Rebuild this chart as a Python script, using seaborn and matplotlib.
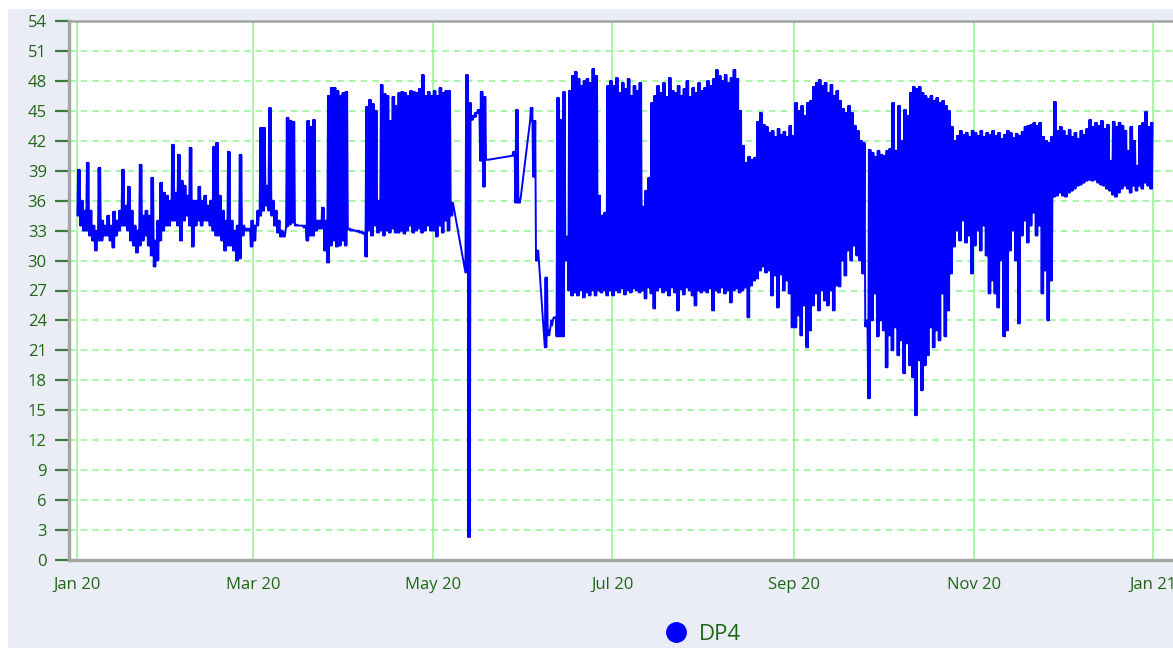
import matplotlib
matplotlib.use("Agg")
import matplotlib.pyplot as plt
import matplotlib.dates as mdates
from matplotlib.lines import Line2D
from matplotlib.patches import Rectangle
import pandas as pd
import seaborn as sns

# ─────────────────────────────────────────────────────────────────
# DATA  (daily low / high of DP4; None = no data)
# ─────────────────────────────────────────────────────────────────
START = pd.Timestamp("2020-01-01")

jan_hi = [39.1, 36, 35, 39.8, 35, 33.5, 33, 39.3, 34, 33.5,
          34.5, 33.5, 34.9, 34, 35, 39.1, 35.5, 37.4, 35, 33.5,
          33, 39.6, 34.5, 35, 34.5, 38.3, 32, 34, 37.8, 36.8,
          36.5]
jan_lo = [34.5, 33.5, 33, 33, 32.5, 32, 31, 32, 32, 32.5,
          32.5, 32, 31.3, 32.5, 33, 33.5, 33.5, 33, 32, 31.5,
          30.8, 31.5, 32, 32.5, 31.5, 30.5, 29.4, 30, 32, 33,
          33.5]

feb_hi = [36, 41.6, 36.8, 40.6, 38, 37.5, 36.5, 41.3, 36, 36,
          37.4, 36, 36.5, 35.5, 36, 41.4, 41.8, 36.5, 35, 34,
          40.9, 34, 33, 33.5, 40.6, 33.5, 33.2, 33.2, 34]
feb_lo = [33.5, 34, 34, 33.5, 32, 34, 34.5, 33.5, 31.4, 33.5,
          34, 33.5, 34, 34, 33.5, 33, 32.5, 32.5, 32, 31,
          31.5, 31.5, 31, 30, 30.2, 32.5, 33, 33, 31.4]

mar_hi = [33.5, 35, 43.3, 43.3, 37.5, 45.3, 36, 35, 34, 33,
          32.8, 44.3, 44, 43.9, 33.6, 33.5, 33.5, 33.5, 44, 43.4,
          44.1, 34, 34, 35.3, 34, 46.5, 47.3, 47.3, 47, 46.5,
          46.8]
mar_lo = [32, 33.5, 34.5, 35, 35.5, 35, 34.5, 33.5, 32.8, 32.4,
          32.4, 33.4, 33.6, 33.8, 33.5, 33.5, 33.5, 33.3, 32, 32.5,
          32.5, 33, 33.2, 33.2, 31, 29.8, 31.5, 32, 31.4, 31.5,
          32]

apr_hi = [46.9, 33.2, 33.1, 33, 33, 32.9, 32.8, 45.4, 46.1, 45.7,
          45, 36, 47.6, 46.7, 46.5, 44, 46.4, 45.5, 46.8, 46.9,
          46.8, 46.5, 47, 46.9, 46.8, 47.2, 48.6, 46.5, 46.9, 46.5]
apr_lo = [31.5, 33.1, 33, 33, 32.9, 32.8, 32.7, 30.4, 33, 32.5,
          33.5, 32.8, 33, 32.5, 33, 32.8, 33.2, 32.8, 32.8, 33,
          32.7, 33, 33.5, 32.8, 33, 33.2, 32.8, 33, 33.5, 33]

may_hi = [47, 46.5, 47.3, 46.8, 47, 47, 35.8, None, None, None,
          None, 48.6, 45.8, 44.5, 44.8, 45.1, 46.9, 46.4, 40.1, None,
          None, None, None, None, None, None, None, 40.9, 45.1, 36.2,
          None]
may_lo = [33, 32.4, 33.5, 32.8, 34, 33, 34.5, None, None, None,
          None, 28.8, 2.3, 44.1, 44.4, 44.8, 40, 37.4, 40.1, None,
          None, None, None, None, None, None, None, 40.5, 35.8, 35.8,
          None]

jun_hi = [None, None, 45.3, 44, 31, None, None, 28.3, 23, 24,
          24.3, 46.3, 44.1, 46.9, 32.4, 47, 48.5, 48.9, 48.2, 47.5,
          48, 48.2, 47.8, 49.2, 48.5, 36.5, 34.5, 34.8, 47.5, 48]
jun_lo = [None, None, 44, 38.4, 30, None, None, 21.3, 22.5, 23.5,
          24.3, 22.4, 22.4, 22.4, 30, 27, 26.5, 26.8, 26.5, 27,
          26.3, 26.8, 26.5, 27, 26.5, 27, 26.8, 27, 26.5, 27]

jul_hi = [47.5, 48.3, 46.8, 47.8, 47.2, 48.2, 46.5, 47.5, 47, 47.8,
          35.4, 37, 38.3, 45.8, 46.5, 47.5, 46.8, 47.8, 46.4, 48.3,
          47, 46.8, 47.5, 46.5, 47.2, 48, 46.4, 47.3, 46.8, 47.8,
          47]
jul_lo = [26.5, 27, 26.8, 27.2, 26.6, 27, 26.8, 27.2, 27, 26.8,
          27, 26.2, 27.3, 26.7, 25.2, 27, 27.3, 26.8, 27, 26.5,
          27.3, 26.8, 25, 27.1, 26.6, 27.3, 27, 26.5, 25.5, 27,
          26.8]

aug_hi = [47.3, 48, 47.5, 48.2, 49.1, 48.5, 48, 48.6, 47.8, 48.3,
          49.1, 48.2, 45, 41.5, 39.8, 40.4, 40.1, 40.3, 43.9, 44.8,
          43.6, 43.4, 42.8, 43, 42.4, 43.2, 42.6, 42.9, 42.4, 43.5,
          42.5]
aug_lo = [27, 26.8, 27.2, 25, 27, 26.8, 27.3, 26.7, 27, 25.8,
          27, 27.2, 26.8, 27, 27.3, 24.3, 27.5, 28, 28.2, 29,
          29.4, 28.8, 29, 26.5, 28.5, 25.3, 28.6, 27, 28, 26.7,
          23.3]

sep_hi = [45.8, 45, 45.5, 44.5, 45.8, 46, 47.4, 47.8, 48.1, 47.5,
          47.8, 46.8, 47.6, 46.5, 47, 46, 45.2, 44.8, 45.5, 44.8,
          43.5, 43, 42, 41.8, 24, 41.1, 40.8, 40.4, 41, 40.6]
sep_lo = [23.3, 24.5, 22.5, 25.5, 21.3, 23, 25.5, 26.7, 25, 27,
          26, 25.5, 27, 25, 27.5, 27.4, 30, 28.5, 31, 30,
          31.5, 30.5, 30, 28.7, 23.4, 16.2, 24, 26.7, 22.4, 24]

oct_hi = [40.5, 41, 41.2, 45.8, 41, 45.5, 42, 45.1, 44.5, 46.8,
          47.4, 47.2, 47.4, 46.8, 46.5, 46.2, 46.5, 46, 46.3, 45.8,
          46, 45.5, 45, 43.4, 42, 42.5, 43, 42.6, 42.8, 42.4,
          43]
oct_lo = [23, 19.3, 22.5, 21, 23.3, 20.5, 22, 18.7, 21.7, 19.5,
          18.3, 14.5, 20, 17, 19.5, 20.5, 23.3, 21.3, 23, 22,
          26.7, 22.4, 25, 28.7, 31.4, 33, 32, 34, 31.8, 32.5,
          28.7]

nov_hi = [42.8, 42.5, 43, 42.4, 42.8, 42.6, 43, 42.5, 42.8, 42.2,
          42.6, 43, 42.8, 42.3, 42.7, 42.5, 42.9, 43.4, 43.5, 43.6,
          43.8, 43.5, 43.8, 42.4, 42, 41.8, 42.4, 45.9, 43, 43.4]
nov_lo = [31.5, 33, 31, 33.5, 30.5, 26.7, 28, 26.7, 25.3, 30,
          22.4, 23, 31, 33, 30, 23.7, 32.5, 34, 31.8, 33.5,
          34.8, 32.5, 33.5, 26.7, 29, 24, 28, 36.4, 36.5, 36.8]

dec_hi = [43, 42.5, 43.1, 42.4, 42.8, 42.2, 43, 42.6, 43.2, 44.1,
          43.4, 43.8, 43.5, 44, 43.2, 43.6, 40, 43.9, 43.4, 43.8,
          43.5, 43, 41, 43.4, 42, 39.5, 43.5, 43.8, 44.9, 43.4,
          43.8]
dec_lo = [36.5, 36.4, 36.8, 37, 37.2, 37.5, 37.6, 37.8, 38, 38.1,
          38, 38.1, 37.8, 37.6, 37.5, 37.2, 37, 36.6, 36.4, 36.8,
          37.2, 37.5, 37.2, 36.8, 37.5, 37, 37.5, 37.2, 37.8, 37.5,
          37.2]

months = [(jan_lo, jan_hi), (feb_lo, feb_hi), (mar_lo, mar_hi),
          (apr_lo, apr_hi), (may_lo, may_hi), (jun_lo, jun_hi),
          (jul_lo, jul_hi), (aug_lo, aug_hi), (sep_lo, sep_hi),
          (oct_lo, oct_hi), (nov_lo, nov_hi), (dec_lo, dec_hi)]

# ─────────────────────────────────────────────────────────────────
# BUILD SERIES  (each day swings low/high twice, like the raw
# sub-daily readings, so dense stretches render as a solid band)
# ─────────────────────────────────────────────────────────────────
rows = []
day = 0
for lo, hi in months:
    for l, h in zip(lo, hi):
        if h is not None:
            for k, v in enumerate([l, h, l, h]):
                rows.append((START + pd.Timedelta(days=day + 0.125 + 0.25 * k), v))
        day += 1
df = pd.DataFrame(rows, columns=["time", "DP4"])

# ─────────────────────────────────────────────────────────────────
# STYLE
# ─────────────────────────────────────────────────────────────────
BG       = "#eaedf6"
GRID     = "#99f599"
TXT      = "#1f6614"
TICK     = "#3d7a3d"
SPINE    = "#a3a3a3"
BLUE     = "#0000ff"

sns.set_theme(style="white")
plt.rcParams["font.family"] = ["Open Sans", "DejaVu Sans"]
plt.rcParams["path.simplify"] = False

fig = plt.figure(figsize=(11.73, 6.48), dpi=100)
fig.patch.set_facecolor("white")
fig.add_artist(Rectangle((8 / 1173, 0), 1, 1 - 9 / 648, transform=fig.transFigure,
                         facecolor=BG, edgecolor="none", zorder=-10))

ax = fig.add_axes([69 / 1173, 88 / 648, 1 - 69 / 1173, 539 / 648])
ax.set_facecolor("white")

sns.lineplot(data=df, x="time", y="DP4", color=BLUE, linewidth=1.4,
             estimator=None, sort=True, ax=ax, legend=False)

# axes limits
ax.set_xlim(START - pd.Timedelta(days=2.72), START + pd.Timedelta(days=372.8))
ax.set_ylim(0, 54)
ax.set_yticks(range(0, 55, 3))
ax.xaxis.set_major_locator(mdates.MonthLocator(bymonth=[1, 3, 5, 7, 9, 11]))
ax.xaxis.set_major_formatter(mdates.DateFormatter("%b %y"))
ax.set_xlabel("")
ax.set_ylabel("")

# grid
ax.yaxis.grid(True, color=GRID, linestyle=(0, (4, 3)), linewidth=1.2)
ax.xaxis.grid(True, color=GRID, linestyle="-", linewidth=1.2)
ax.set_axisbelow(True)

# spines
for side in ["left", "bottom"]:
    ax.spines[side].set_color(SPINE)
    ax.spines[side].set_linewidth(2.4)
ax.spines["top"].set_color(SPINE)
ax.spines["top"].set_linewidth(1.8)
ax.spines["right"].set_visible(False)

ax.tick_params(axis="y", colors=TICK, labelcolor=TXT, length=10, width=1.6,
               pad=6, labelsize=12, left=True)
ax.tick_params(axis="x", length=0, pad=12, labelcolor=TXT, labelsize=12)

# legend
handle = Line2D([], [], marker="o", linestyle="none", color=BLUE, markersize=14)
leg = fig.legend([handle], ["DP4"], loc="center", frameon=False,
                 bbox_to_anchor=(703 / 1173, 1 - 634 / 648),
                 handlelength=1.0, handletextpad=0.5, fontsize=16)
for t in leg.get_texts():
    t.set_color(TXT)

fig.savefig("out.png", dpi=100, facecolor=fig.get_facecolor())
